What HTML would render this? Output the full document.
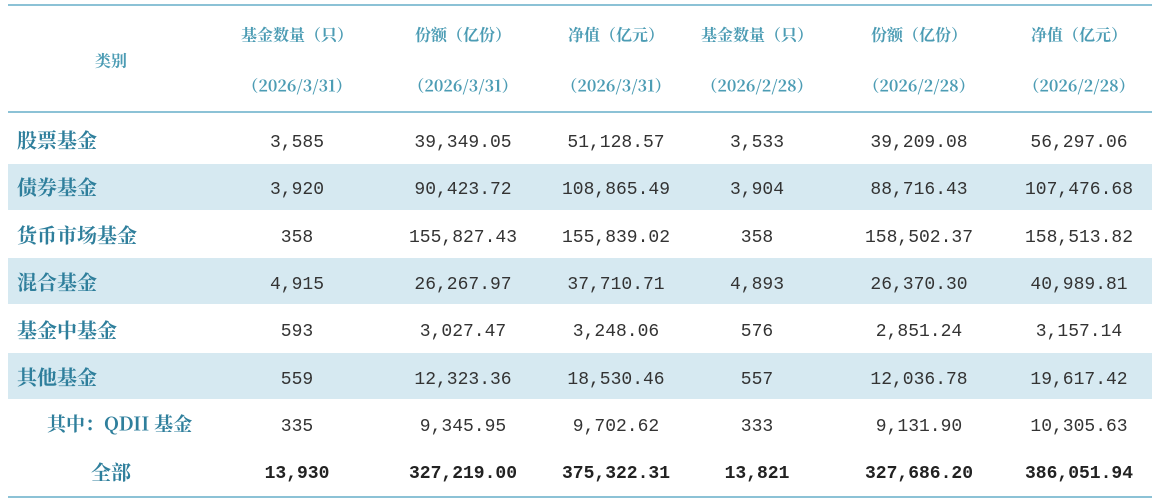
<!DOCTYPE html>
<html><head><meta charset="utf-8"><style>
body{margin:0;width:1156px;height:500px;background:#fff;position:relative;overflow:hidden;font-family:"Liberation Sans","Noto Sans CJK SC",sans-serif}
.line{position:absolute;left:8px;width:1144px;height:2px;background:#8cc2d6}
.band{position:absolute;left:8px;width:1144px;background:#d6e9f1}
.t{position:absolute;white-space:nowrap;transform:translate(-50%,-50%)}
.h{color:#4c9cb4;font-size:16px;font-weight:bold;font-family:"Noto Serif CJK SC","Liberation Serif",serif}
.c{position:absolute;white-space:nowrap;transform:translateY(-50%);color:#2f7f9c;font-size:20px;font-weight:bold;font-family:"Noto Serif CJK SC",serif}
.n{color:#333;font-size:18px;font-family:"Liberation Mono",monospace}
.b{font-weight:bold;color:#222}
</style></head><body>
<div class="line" style="top:4px"></div>
<div class="line" style="top:111px"></div>
<div class="line" style="top:496px"></div>
<div class="band" style="top:164px;height:46px"></div>
<div class="band" style="top:258px;height:46px"></div>
<div class="band" style="top:353px;height:46px"></div>
<div class="t h" style="left:111px;top:60px">类别</div>
<div class="t h" style="left:297px;top:34px">基金数量（只）</div><div class="t h" style="left:297px;top:85px">（2026/3/31）</div>
<div class="t h" style="left:463px;top:34px">份额（亿份）</div><div class="t h" style="left:463px;top:85px">（2026/3/31）</div>
<div class="t h" style="left:616px;top:34px">净值（亿元）</div><div class="t h" style="left:616px;top:85px">（2026/3/31）</div>
<div class="t h" style="left:757px;top:34px">基金数量（只）</div><div class="t h" style="left:757px;top:85px">（2026/2/28）</div>
<div class="t h" style="left:919px;top:34px">份额（亿份）</div><div class="t h" style="left:919px;top:85px">（2026/2/28）</div>
<div class="t h" style="left:1079px;top:34px">净值（亿元）</div><div class="t h" style="left:1079px;top:85px">（2026/2/28）</div>

<div class="c" style="left:17px;top:139px">股票基金</div>
<div class="c" style="left:17px;top:186px">债券基金</div>
<div class="c" style="left:17px;top:234px">货币市场基金</div>
<div class="c" style="left:17px;top:281px">混合基金</div>
<div class="c" style="left:17px;top:329px">基金中基金</div>
<div class="c" style="left:17px;top:376px">其他基金</div>
<div class="c" style="left:47px;top:423px;font-size:19px">其中：QDII 基金</div>
<div class="t c" style="left:111px;top:471px;transform:translate(-50%,-50%)">全部</div>

<div id="nums"></div>
<script>
var rows=[
["3,585","39,349.05","51,128.57","3,533","39,209.08","56,297.06"],
["3,920","90,423.72","108,865.49","3,904","88,716.43","107,476.68"],
["358","155,827.43","155,839.02","358","158,502.37","158,513.82"],
["4,915","26,267.97","37,710.71","4,893","26,370.30","40,989.81"],
["593","3,027.47","3,248.06","576","2,851.24","3,157.14"],
["559","12,323.36","18,530.46","557","12,036.78","19,617.42"],
["335","9,345.95","9,702.62","333","9,131.90","10,305.63"],
["13,930","327,219.00","375,322.31","13,821","327,686.20","386,051.94"]];
var xs=[297,463,616,757,919,1079],h="";
rows.forEach(function(r,i){var y=143+i*47.3;r.forEach(function(v,j){h+='<div class="t n'+(i==7?' b':'')+'" style="left:'+xs[j]+'px;top:'+y+'px">'+v+'</div>';});});
document.getElementById('nums').innerHTML=h;
</script>
</body></html>
